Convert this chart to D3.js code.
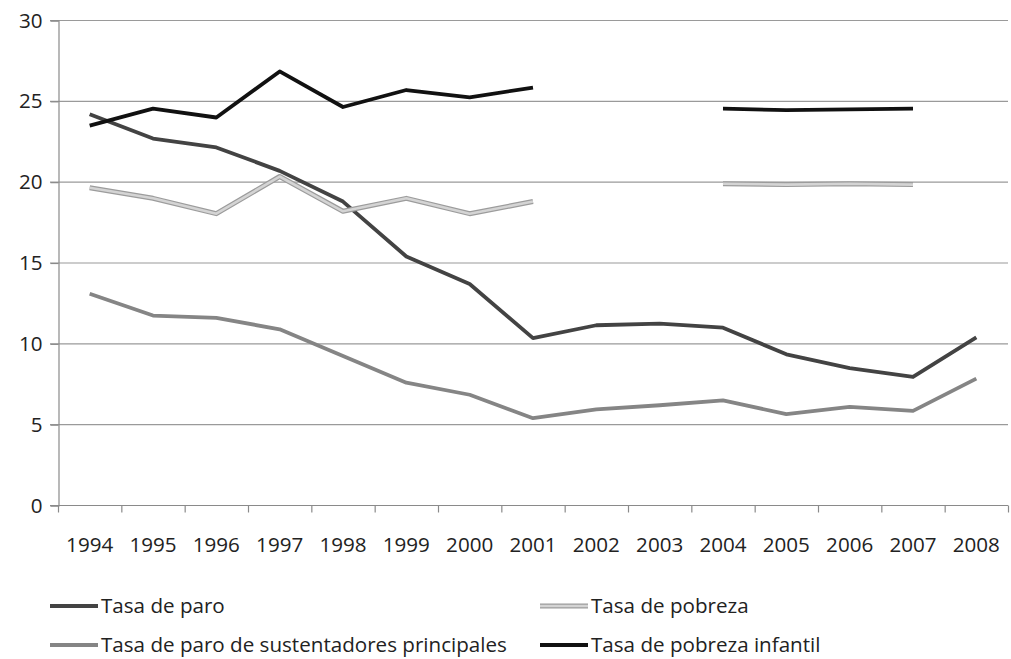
<!DOCTYPE html>
<html><head><meta charset="utf-8">
<script src="https://cdn.jsdelivr.net/npm/d3@7"></script>
<style>body{margin:0;background:#fff}svg{display:block}text{font-family:"Open Sans",sans-serif;fill:#222}</style>
</head><body><svg id="c" width="1011" height="659"></svg>
<script>
const years = ["1994","1995","1996","1997","1998","1999","2000","2001","2002","2003","2004","2005","2006","2007","2008"];
const tasaParo = [24.2,22.7,22.15,20.7,18.8,15.4,13.7,10.35,11.15,11.25,11.0,9.35,8.5,7.95,10.4];
const tasaPobreza = [19.65,19.0,18.05,20.35,18.2,19.0,18.05,18.8,null,null,19.9,19.85,19.9,19.85];
const tasaParoSust = [13.1,11.75,11.6,10.9,9.25,7.6,6.85,5.4,5.95,6.2,6.5,5.65,6.1,5.85,7.85];
const tasaPobrezaInf = [23.5,24.55,24.0,26.85,24.65,25.7,25.25,25.85,null,null,24.55,24.45,24.5,24.55];
const yTicks = [0,5,10,15,20,25,30];
const seriesNames = ["Tasa de paro","Tasa de pobreza","Tasa de paro de sustentadores principales","Tasa de pobreza infantil"];

const FS = 20.6;
const svg = d3.select("#c");
const x = d3.scaleBand().domain(years).range([58,1008]);
const y = d3.scaleLinear().domain([0,30]).range([505.5,20.5]);

// gridlines
svg.append("g").selectAll("line").data(yTicks.filter(d=>d>0)).join("line")
  .attr("x1",50).attr("x2",1008).attr("y1",d=>y(d)).attr("y2",d=>y(d))
  .attr("stroke","#9a9a9a").attr("stroke-width",1.2);

// y axis
const ya = svg.append("g").attr("transform","translate(58.5,0)")
  .call(d3.axisLeft(y).tickValues(yTicks).tickSize(8).tickPadding(8));
ya.select(".domain").attr("stroke","#8a8a8a").attr("stroke-width",1.2);
ya.selectAll(".tick line").attr("stroke","#8a8a8a").attr("stroke-width",1.2);
ya.selectAll("text").attr("font-size",FS).attr("fill","#222").attr("font-family","Open Sans");

// x axis
const xa = svg.append("g").attr("transform","translate(0,"+y(0)+")")
  .call(d3.axisBottom(x).tickSize(0).tickPadding(32));
xa.select(".domain").attr("stroke","#8a8a8a").attr("stroke-width",1.2).attr("d","M50,0H1008");
xa.selectAll("text").attr("font-size",FS).attr("fill","#222").attr("font-family","Open Sans");
svg.append("g").selectAll("line").data(years.concat(["end"])).join("line")
  .attr("x1",(d,i)=>x.range()[0]+i*x.bandwidth()+0.5).attr("x2",(d,i)=>x.range()[0]+i*x.bandwidth()+0.5)
  .attr("y1",y(0)).attr("y2",y(0)+7).attr("stroke","#8a8a8a").attr("stroke-width",1.2);

function mk(vals){ return d3.line().defined(d=>d.v!=null).x(d=>x(d.yr)+x.bandwidth()/2).y(d=>y(d.v))(vals.map((v,i)=>({yr:years[i],v}))); }

const g = svg.append("g").attr("fill","none").attr("stroke-linejoin","round");
g.append("path").attr("d",mk(tasaParo)).attr("stroke","#434343").attr("stroke-width",3.8);
g.append("path").attr("d",mk(tasaPobreza)).attr("stroke","#9c9c9c").attr("stroke-width",5);
g.append("path").attr("d",mk(tasaPobreza)).attr("stroke","#d4d4d4").attr("stroke-width",2.6);
g.append("path").attr("d",mk(tasaParoSust)).attr("stroke","#858585").attr("stroke-width",3.8);
g.append("path").attr("d",mk(tasaPobrezaInf)).attr("stroke","#111").attr("stroke-width",3.8);

// legend
const leg = [
  {name:seriesNames[0], x:50, y:606, c:"#434343", dbl:false},
  {name:seriesNames[1], x:540, y:606, c:"#d4d4d4", dbl:true},
  {name:seriesNames[2], x:50, y:645, c:"#858585", dbl:false},
  {name:seriesNames[3], x:540, y:645, c:"#111", dbl:false}
];
const lg = svg.append("g");
leg.forEach(l=>{
  if(l.dbl) lg.append("line").attr("x1",l.x).attr("x2",l.x+48).attr("y1",l.y).attr("y2",l.y).attr("stroke","#9c9c9c").attr("stroke-width",5);
  lg.append("line").attr("x1",l.x).attr("x2",l.x+48).attr("y1",l.y).attr("y2",l.y).attr("stroke",l.c).attr("stroke-width",l.dbl?2.6:4);
  lg.append("text").attr("x",l.x+51).attr("y",l.y+7).attr("font-size",FS).text(l.name);
});
</script></body></html>
